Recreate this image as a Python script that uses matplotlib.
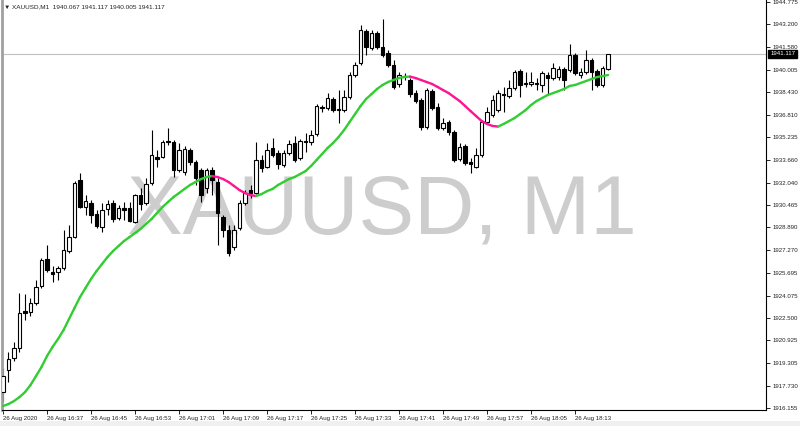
import matplotlib.pyplot as plt
from matplotlib.collections import LineCollection
from matplotlib.patches import Rectangle
import numpy as np

plt.rcParams['font.family'] = ['Liberation Sans', 'DejaVu Sans']

# XAUUSD M1 candles, 26 Aug 2020 16:29 .. 18:19
opens = [1917.28, 1918.83, 1919.68, 1920.39, 1922.99, 1922.92, 1923.56, 1924.76, 1926.66, 1925.74,
         1925.74, 1926.03, 1927.22, 1928.21, 1932.23, 1930.33, 1930.61, 1929.83, 1928.92, 1930.19,
         1930.61, 1929.55, 1930.26, 1930.26, 1929.27, 1931.17, 1930.61, 1932.02, 1933.85, 1933.85,
         1934.98, 1934.91, 1932.93, 1932.79, 1934.34, 1933.50, 1932.93, 1931.67, 1932.93, 1932.09,
         1929.62, 1928.70, 1927.51, 1928.85, 1930.61, 1931.52, 1931.31, 1933.64, 1933.15, 1934.49,
         1934.13, 1933.29, 1934.13, 1934.84, 1933.78, 1934.98, 1934.91, 1935.47, 1937.38, 1937.31,
         1937.94, 1937.24, 1937.16, 1938.08, 1939.63, 1940.48, 1942.73, 1941.54, 1942.59, 1941.61,
         1941.18, 1940.34, 1939.00, 1939.49, 1939.28, 1938.36, 1937.87, 1935.97, 1938.50, 1937.38,
         1935.90, 1936.32, 1935.61, 1933.71, 1934.63, 1933.50, 1933.15, 1933.99, 1936.32, 1936.81,
         1937.16, 1938.29, 1938.15, 1938.72, 1939.91, 1939.07, 1939.00, 1939.07, 1938.93, 1939.63,
         1939.42, 1939.49, 1940.06, 1939.98, 1941.04, 1939.63, 1939.84, 1940.69, 1939.91, 1938.93,
         1940.067]
highs = [1918.98, 1920.10, 1920.81, 1924.26, 1924.19, 1923.91, 1925.18, 1926.73, 1927.65, 1926.17,
         1926.17, 1928.70, 1929.06, 1932.16, 1932.72, 1931.17, 1930.82, 1930.11, 1930.61, 1930.82,
         1930.82, 1930.47, 1930.68, 1930.68, 1931.24, 1931.67, 1932.37, 1935.75, 1934.34, 1935.05,
         1935.90, 1935.05, 1934.84, 1934.63, 1934.49, 1933.64, 1933.08, 1933.08, 1933.15, 1932.37,
         1929.76, 1929.06, 1929.06, 1930.82, 1931.52, 1931.88, 1934.91, 1933.99, 1934.84, 1935.19,
         1934.34, 1934.34, 1935.05, 1935.33, 1935.12, 1935.54, 1935.75, 1937.59, 1937.52, 1938.36,
         1938.08, 1938.57, 1938.57, 1939.84, 1940.55, 1943.16, 1942.88, 1942.80, 1942.73, 1943.58,
         1941.39, 1940.69, 1939.84, 1939.77, 1939.42, 1938.57, 1938.01, 1938.72, 1938.65, 1937.66,
         1936.60, 1936.46, 1935.75, 1934.84, 1934.77, 1933.78, 1934.49, 1936.46, 1937.38, 1938.22,
         1938.57, 1938.79, 1939.28, 1939.98, 1940.06, 1939.84, 1939.84, 1939.42, 1939.91, 1939.84,
         1940.48, 1940.27, 1940.20, 1941.82, 1941.18, 1940.13, 1941.39, 1940.83, 1940.06, 1940.27,
         1941.117]
lows = [1916.58, 1917.99, 1919.47, 1920.10, 1922.36, 1922.64, 1923.42, 1924.62, 1925.74, 1925.04,
        1925.18, 1925.88, 1927.08, 1928.14, 1930.26, 1929.76, 1929.20, 1928.85, 1928.56, 1929.76,
        1929.27, 1929.41, 1929.41, 1929.27, 1929.20, 1930.11, 1930.47, 1931.88, 1933.15, 1933.78,
        1934.70, 1932.44, 1932.79, 1932.58, 1933.29, 1931.88, 1930.68, 1931.31, 1931.17, 1927.65,
        1928.21, 1926.87, 1927.29, 1928.70, 1930.47, 1930.96, 1931.24, 1932.79, 1933.08, 1933.85,
        1933.01, 1933.15, 1933.99, 1933.50, 1933.64, 1934.20, 1934.70, 1935.33, 1937.02, 1937.16,
        1937.02, 1936.25, 1937.02, 1937.94, 1939.49, 1940.34, 1941.04, 1941.39, 1941.47, 1940.90,
        1940.20, 1938.65, 1938.79, 1939.28, 1938.08, 1937.66, 1935.75, 1935.83, 1937.16, 1935.75,
        1935.75, 1935.40, 1933.50, 1933.57, 1933.29, 1932.72, 1933.08, 1933.85, 1936.18, 1936.67,
        1937.02, 1937.02, 1938.01, 1938.57, 1938.08, 1938.79, 1938.86, 1938.57, 1938.43, 1938.22,
        1939.28, 1939.28, 1938.57, 1939.84, 1939.63, 1939.42, 1939.70, 1938.57, 1938.79, 1938.79,
        1940.005]
closes = [1918.41, 1919.61, 1920.39, 1922.85, 1922.85, 1923.56, 1924.69, 1926.59, 1925.88, 1925.60,
          1926.03, 1927.29, 1928.21, 1932.02, 1930.33, 1930.75, 1929.76, 1928.99, 1930.11, 1930.54,
          1929.48, 1930.26, 1930.11, 1929.34, 1931.17, 1930.54, 1931.95, 1933.99, 1933.71, 1934.91,
          1934.91, 1932.93, 1934.34, 1934.42, 1933.50, 1932.37, 1931.17, 1932.93, 1932.23, 1929.90,
          1928.70, 1927.08, 1928.70, 1930.61, 1931.31, 1931.31, 1933.64, 1933.08, 1934.34, 1933.99,
          1933.36, 1934.13, 1934.77, 1933.64, 1934.98, 1934.91, 1935.40, 1937.45, 1937.31, 1938.01,
          1937.16, 1937.16, 1938.08, 1939.63, 1940.34, 1942.80, 1941.61, 1942.59, 1941.61, 1941.04,
          1940.34, 1938.79, 1939.63, 1939.56, 1938.29, 1937.80, 1935.97, 1938.57, 1937.31, 1935.90,
          1936.25, 1935.61, 1933.64, 1934.56, 1933.43, 1933.36, 1933.99, 1936.32, 1937.02, 1937.87,
          1938.36, 1938.22, 1938.72, 1939.84, 1938.93, 1939.00, 1939.14, 1939.00, 1939.77, 1939.42,
          1940.13, 1940.06, 1939.28, 1941.04, 1939.77, 1939.84, 1940.69, 1939.84, 1938.93, 1940.13,
          1941.117]
ma_values = [1916.30, 1916.44, 1916.65, 1916.93, 1917.28, 1917.78, 1918.41, 1919.05, 1919.82, 1920.46,
             1921.02, 1921.65, 1922.43, 1923.21, 1923.98, 1924.62, 1925.25, 1925.81, 1926.31, 1926.80,
             1927.22, 1927.58, 1927.93, 1928.21, 1928.49, 1928.78, 1929.13, 1929.48, 1929.90, 1930.33,
             1930.68, 1931.03, 1931.31, 1931.60, 1931.88, 1932.09, 1932.30, 1932.44, 1932.51, 1932.44,
             1932.30, 1932.09, 1931.81, 1931.52, 1931.31, 1931.17, 1931.10, 1931.24, 1931.45, 1931.60,
             1931.88, 1932.09, 1932.30, 1932.44, 1932.65, 1932.86, 1933.22, 1933.64, 1934.06, 1934.49,
             1934.84, 1935.26, 1935.75, 1936.32, 1936.88, 1937.45, 1937.94, 1938.29, 1938.65, 1938.93,
             1939.14, 1939.28, 1939.42, 1939.50, 1939.52, 1939.42, 1939.28, 1939.14, 1939.00, 1938.79,
             1938.57, 1938.36, 1938.08, 1937.80, 1937.45, 1937.09, 1936.74, 1936.39, 1936.18, 1936.04,
             1936.00, 1936.18, 1936.39, 1936.60, 1936.88, 1937.16, 1937.52, 1937.80, 1938.01, 1938.22,
             1938.36, 1938.50, 1938.65, 1938.86, 1938.93, 1939.07, 1939.21, 1939.35, 1939.49, 1939.56,
             1939.63]

price_ticks = [1916.155, 1917.730, 1919.305, 1920.925, 1922.500, 1924.075, 1925.695, 1927.270,
               1928.890, 1930.465, 1932.040, 1933.660, 1935.235, 1936.810, 1938.430, 1940.005,
               1941.580, 1943.200, 1944.775]
time_ticks = [0, 8, 16, 24, 32, 40, 48, 56, 64, 72, 80, 88, 96, 104]
time_labels = ['26 Aug 2020', '26 Aug 16:37', '26 Aug 16:45', '26 Aug 16:53', '26 Aug 17:01',
               '26 Aug 17:09', '26 Aug 17:17', '26 Aug 17:25', '26 Aug 17:33', '26 Aug 17:41',
               '26 Aug 17:49', '26 Aug 17:57', '26 Aug 18:05', '26 Aug 18:13']
symbol = 'XAUUSD,M1'
last_price = 1941.117

fig = plt.figure(figsize=(8, 4.26), dpi=100)
fig.patches.append(Rectangle((0, 0), 1, 5 / 426, transform=fig.transFigure,
                             facecolor='#f0f0f0', edgecolor='none'))
ax = fig.add_axes([2 / 800, 16 / 426, 764 / 800, 410 / 426])

x = np.arange(len(opens))
o = np.array(opens)
c = np.array(closes)
up = c >= o

# watermark
ax.text(0.497, 0.485, 'XAUUSD, M1', transform=ax.transAxes, fontsize=60,
        color='#cdcdcd', ha='center', va='center', zorder=0)

# current price line
ax.axhline(last_price, color='#c0c0c0', lw=0.8, zorder=1)

ax.vlines(x, lows, highs, color='black', lw=0.8, zorder=2)
ax.bar(x[up], (c - o)[up], bottom=o[up], width=0.68, color='white',
       edgecolor='black', lw=0.8, zorder=3)
ax.bar(x[~up], (o - c)[~up], bottom=c[~up], width=0.68, color='black',
       edgecolor='black', lw=0.8, zorder=3)

# moving average, green rising / magenta falling
ma = np.array(ma_values)
pts = np.column_stack([x, ma])
segs = np.stack([pts[:-1], pts[1:]], axis=1)
cols = np.where(np.diff(ma) < 0, '#ff1493', '#32cd32')
ax.add_collection(LineCollection(segs, colors=cols, linewidths=1.7, zorder=4,
                                 capstyle='round'))

ax.set_xlim(-0.18, 138.7)
ax.set_ylim(1916.02, 1944.92)

ax.yaxis.tick_right()
ax.set_yticks(price_ticks)
ax.set_yticklabels(['%.3f' % p for p in price_ticks])
ax.set_xticks(time_ticks)
ax.set_xticklabels(time_labels, ha='left')
ax.tick_params(axis='both', labelsize=4.4, length=3, width=0.6, colors='black',
               labelcolor='#222222', pad=1.5)

ax.spines['top'].set_visible(False)
ax.spines['left'].set_color('#a0a0a0')
ax.spines['left'].set_linewidth(2)
ax.spines['right'].set_linewidth(0.8)
ax.spines['bottom'].set_linewidth(0.8)

# price label on the axis
ax.annotate('%.3f' % last_price, xy=(1.0, last_price), xycoords=('axes fraction', 'data'),
            xytext=(3, 0), textcoords='offset points', fontsize=4.4, color='white',
            va='center', ha='left',
            bbox=dict(boxstyle='square,pad=0.3', facecolor='black', edgecolor='black'))

fig.text(4 / 800, 1 - 7 / 426, '\u25bc %s  1940.067 1941.117 1940.005 1941.117' % symbol,
         fontsize=4.6, va='center', ha='left', color='#222222')

fig.savefig('out.png', dpi=100)
